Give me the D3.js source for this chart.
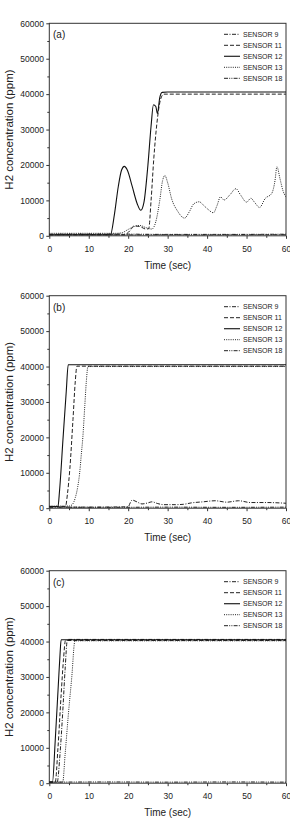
<!DOCTYPE html>
<html>
<head>
<meta charset="utf-8">
<script src="https://cdn.jsdelivr.net/npm/d3@7"></script>
<style>
  body { margin: 0; background: #fff; }
  svg { display: block; font-family: "Liberation Sans", Arial, sans-serif; }
</style>
</head>
<body>
<div id="chart"></div>
<script>
// sensor names and legend order
var sensors = ["SENSOR 9", "SENSOR 11", "SENSOR 12", "SENSOR 13", "SENSOR 18"];
var xTicks = [0, 10, 20, 30, 40, 50, 60];
var yTicks = [0, 10000, 20000, 30000, 40000, 50000, 60000];

// panel (a) - [time (sec), ppm]
var a_s9  = [[0,250],[10,300],[20,250],[30,300],[40,250],[50,300],[60,300]];
var a_s11 = [[0,300],[19,300],[20.5,1500],[21.5,2800],[23,2600],[24.5,1900],[25.2,2000],[25.8,10000],[26.5,22000],[27.3,32000],[28.2,38500],[29,40000],[60,40000]];
var a_s12 = [[0,300],[15.5,300],[16.5,6000],[17.5,14000],[18.3,18500],[19,19600],[19.8,18500],[21,14000],[22.3,9000],[23.2,7200],[24,9500],[25,20000],[25.8,31000],[26.4,37000],[27,36500],[27.4,34500],[28,39000],[28.6,40500],[30,40600],[60,40600]];
var a_s13 = [[0,700],[17,700],[18.5,900],[20,1800],[21.5,2600],[23,2900],[24.5,2300],[26,1900],[27,4000],[28,10000],[28.7,15500],[29.3,17000],[30,15000],[31,10500],[32.5,7000],[34.3,5000],[35.5,6800],[36.6,9000],[38,9600],[39.2,8500],[40.2,7500],[41.6,6500],[42.5,8500],[43.4,11000],[44.3,10100],[45.8,11600],[47.3,13300],[48.5,11500],[50,9500],[51.1,10600],[52,9500],[53.3,8000],[54.7,10500],[56.4,12000],[57.2,15500],[57.7,19500],[58.5,16000],[59.3,12500],[60,11000]];
var a_s18 = [[0,450],[15,500],[30,400],[45,400],[60,450]];

// panel (b)
var b_s9  = [[0,300],[10,300],[20,400],[20.5,1500],[21,2300],[22,1900],[23.5,1200],[25,1500],[26,1800],[27.5,1300],[29,1000],[32,1000],[34,1100],[36,1500],[39,1800],[42,2100],[45,1700],[48,2100],[51,1600],[55,1600],[60,1400]];
var b_s11 = [[0,500],[4.1,500],[4.6,4000],[5.2,11000],[6,25000],[6.6,36000],[7,40100],[60,40100]];
var b_s12 = [[0,500],[2.2,500],[2.6,5000],[3.5,20000],[4.3,33000],[4.8,40500],[60,40500]];
var b_s13 = [[0,600],[5,600],[5.8,1000],[6.6,3000],[7.2,6000],[7.7,10000],[8.1,15000],[8.5,20000],[9,29000],[9.4,36000],[9.8,40000],[60,40000]];
var b_s18 = [[0,300],[15,250],[30,300],[45,250],[60,300]];

// panel (c)
var c_s9  = [[0,300],[2,300],[2.7,8000],[3.4,20000],[4,32000],[4.6,40600],[60,40600]];
var c_s11 = [[0,300],[1.5,300],[2.2,10000],[3,25000],[3.6,35000],[4.1,40300],[60,40300]];
var c_s12 = [[0,300],[0.8,300],[1.5,12000],[2.3,28000],[2.7,36000],[3,40500],[60,40500]];
var c_s13 = [[0,300],[3.4,300],[4,8000],[4.8,19000],[5.7,30000],[6.5,40200],[60,40200]];
var c_s18 = [[0,300],[15,350],[30,300],[45,350],[60,300]];

var panels = [
  { label: "(a)", top: 23.3, series: [a_s9, a_s11, a_s12, a_s13, a_s18] },
  { label: "(b)", top: 295.7, series: [b_s9, b_s11, b_s12, b_s13, b_s18] },
  { label: "(c)", top: 570.7, series: [c_s9, c_s11, c_s12, c_s13, c_s18] }
];

// line styles per sensor (same order as sensors)
var dashes = ["4,1.5,1,1.5", "4,2", null, "1,1.2", "4,1.2,1,1.2,1,1.2"];

var W = 290, H = 825;
var left = 49.3, right = 286, plotH = 212.5;

var svg = d3.select("#chart").append("svg")
  .attr("width", W).attr("height", H);

var x = d3.scaleLinear().domain([0, 60]).range([left, right]);

panels.forEach(function (p) {
  var y = d3.scaleLinear().domain([0, 60000]).range([p.top + plotH, p.top]);
  var g = svg.append("g");

  // frame
  g.append("rect")
    .attr("x", left).attr("y", p.top)
    .attr("width", right - left).attr("height", plotH)
    .attr("fill", "none").attr("stroke", "#333").attr("stroke-width", 1);

  // minor ticks
  g.append("g")
    .attr("transform", "translate(0," + (p.top + plotH) + ")")
    .call(d3.axisBottom(x).tickValues([5, 15, 25, 35, 45, 55]).tickSize(2).tickFormat(""))
    .call(function (a) { a.select(".domain").remove(); a.selectAll("line").attr("stroke", "#333"); });
  g.append("g")
    .attr("transform", "translate(" + left + ",0)")
    .call(d3.axisLeft(y).tickValues([5000, 15000, 25000, 35000, 45000, 55000]).tickSize(2).tickFormat(""))
    .call(function (a) { a.select(".domain").remove(); a.selectAll("line").attr("stroke", "#333"); });

  // axes
  g.append("g")
    .attr("transform", "translate(0," + (p.top + plotH) + ")")
    .call(d3.axisBottom(x).tickValues(xTicks).tickSize(3).tickPadding(7))
    .call(function (a) {
      a.select(".domain").remove();
      a.selectAll("line").attr("stroke", "#333");
      a.selectAll("text").attr("font-size", 8.5).attr("fill", "#222")
        .attr("font-family", "Liberation Sans, Arial, sans-serif");
    });
  g.append("g")
    .attr("transform", "translate(" + left + ",0)")
    .call(d3.axisLeft(y).tickValues(yTicks).tickSize(3).tickPadding(2.3).tickFormat(d3.format("d")))
    .call(function (a) {
      a.select(".domain").remove();
      a.selectAll("line").attr("stroke", "#333");
      a.selectAll("text").attr("font-size", 8.5).attr("fill", "#222")
        .attr("font-family", "Liberation Sans, Arial, sans-serif");
    });

  // axis titles
  g.append("text")
    .attr("x", (left + right) / 2).attr("y", p.top + plotH + 33)
    .attr("text-anchor", "middle").attr("font-size", 10).attr("fill", "#222")
    .text("Time (sec)");
  g.append("text")
    .attr("transform", "translate(12.5," + (p.top + plotH / 2) + ") rotate(-90)")
    .attr("text-anchor", "middle").attr("font-size", 11.5).attr("fill", "#222")
    .text("H2 concentration (ppm)");

  // panel letter
  g.append("text")
    .attr("x", 53).attr("y", p.top + 15)
    .attr("font-size", 10).attr("fill", "#222")
    .text(p.label);

  // lines
  var line = d3.line()
    .x(function (d) { return x(d[0]); })
    .y(function (d) { return y(d[1]); })
    .curve(d3.curveMonotoneX);

  var clipId = "clip" + p.label.replace(/\W/g, "");
  g.append("clipPath").attr("id", clipId)
    .append("rect").attr("x", left).attr("y", p.top).attr("width", right - left).attr("height", plotH);

  p.series.forEach(function (s, i) {
    g.append("path")
      .datum(s)
      .attr("clip-path", "url(#" + clipId + ")")
      .attr("d", line)
      .attr("fill", "none")
      .attr("stroke", i == 2 ? "#111" : "#222")
      .attr("stroke-width", i == 2 ? 1.1 : 1)
      .attr("stroke-dasharray", dashes[i]);
  });

  // legend
  var lg = g.append("g");
  sensors.forEach(function (name, i) {
    var ly = p.top + 11 + i * 11;
    lg.append("line")
      .attr("x1", 224).attr("x2", 240).attr("y1", ly).attr("y2", ly)
      .attr("stroke", "#222").attr("stroke-width", i == 2 ? 1.2 : 1)
      .attr("stroke-dasharray", dashes[i]);
    lg.append("text")
      .attr("x", 243).attr("y", ly + 2.5)
      .attr("font-size", 7).attr("fill", "#222")
      .text(name);
  });
});
</script>
</body>
</html>
